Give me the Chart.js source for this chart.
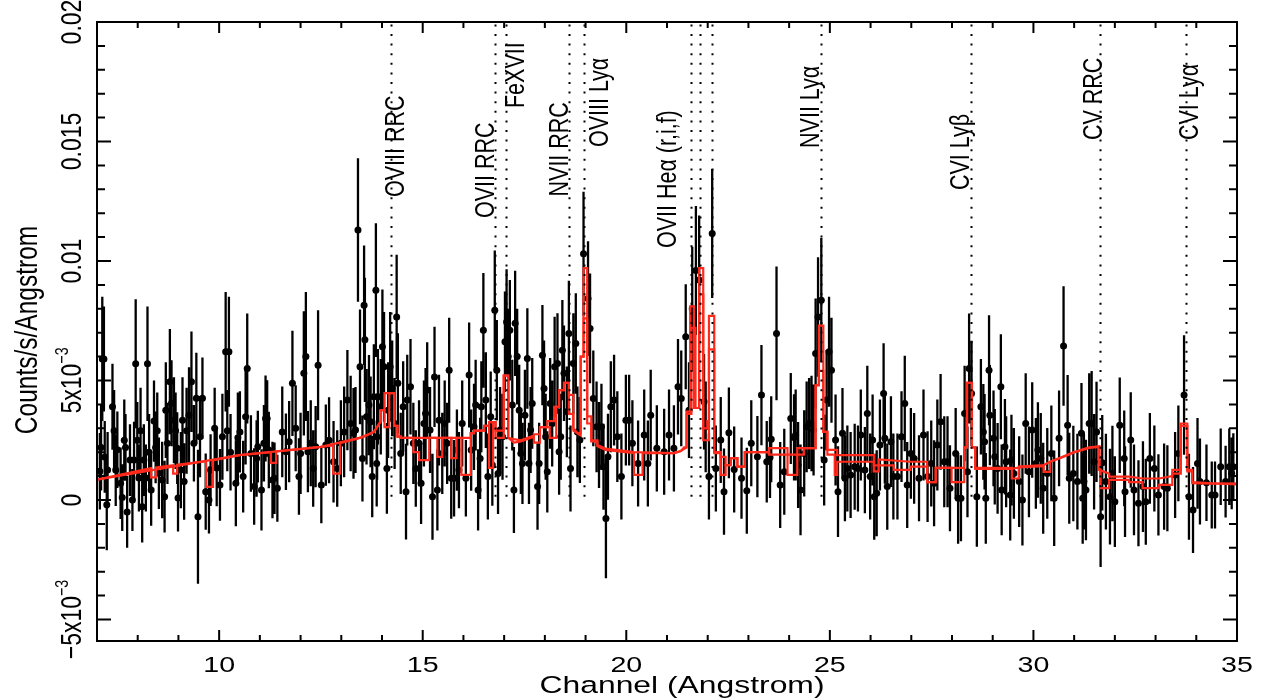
<!DOCTYPE html>
<html>
<head>
<meta charset="utf-8">
<title>RGS spectrum</title>
<script src="https://cdn.jsdelivr.net/npm/chart.js@4.4.1/dist/chart.umd.min.js"></script>
<style>
  html, body { margin: 0; padding: 0; background: #fff; }
  canvas { display: block; }
</style>
</head>
<body>
<canvas id="spectrum" width="1265" height="700"></canvas>
<script>
// ------------------- Data (rate and errors in 1e-3 counts/s/Angstrom) -------------------
const wave = [
  7.07, 7.10, 7.13, 7.17, 7.19, 7.24, 7.26, 7.38, 7.42, 7.46,
  7.50, 7.58, 7.62, 7.67, 7.70, 7.74, 7.81, 7.87, 7.91, 7.95,
  7.99, 8.03, 8.07, 8.11, 8.15, 8.20, 8.24, 8.28, 8.33, 8.40,
  8.44, 8.48, 8.52, 8.60, 8.66, 8.69, 8.73, 8.79, 8.83, 8.89,
  8.93, 8.97, 8.99, 9.06, 9.10, 9.14, 9.20, 9.26, 9.32, 9.38,
  9.44, 9.48, 9.53, 9.59, 9.67, 9.75, 9.79, 9.89, 9.94, 10.02,
  10.08, 10.16, 10.20, 10.24, 10.28, 10.41, 10.46, 10.51, 10.59, 10.65,
  10.69, 10.78, 10.86, 10.92, 10.95, 11.04, 11.10, 11.14, 11.18, 11.22,
  11.31, 11.36, 11.43, 11.55, 11.64, 11.72, 11.80, 11.88, 11.96, 12.00,
  12.08, 12.13, 12.18, 12.25, 12.31, 12.37, 12.43, 12.51, 12.62, 12.70,
  12.81, 12.90, 12.99, 13.07, 13.15, 13.23, 13.30, 13.35, 13.41, 13.46,
  13.52, 13.56, 13.58, 13.62, 13.68, 13.72, 13.76, 13.80, 13.85, 13.87,
  13.88, 13.90, 13.97, 14.01, 14.05, 14.12, 14.15, 14.20, 14.25, 14.31,
  14.36, 14.39, 14.46, 14.52, 14.59, 14.62, 14.70, 14.77, 14.83, 14.91,
  14.96, 15.03, 15.07, 15.11, 15.18, 15.24, 15.29, 15.36, 15.40, 15.48,
  15.54, 15.60, 15.65, 15.70, 15.77, 15.84, 15.89, 15.97, 16.06, 16.14,
  16.19, 16.26, 16.30, 16.36, 16.41, 16.44, 16.49, 16.55, 16.60, 16.67,
  16.71, 16.77, 16.82, 16.85, 16.90, 16.96, 17.02, 17.06, 17.10, 17.14,
  17.20, 17.24, 17.27, 17.32, 17.37, 17.41, 17.45, 17.51, 17.57, 17.61,
  17.65, 17.69, 17.82, 17.86, 17.94, 17.98, 18.02, 18.06, 18.13, 18.18,
  18.24, 18.31, 18.35, 18.39, 18.43, 18.47, 18.54, 18.59, 18.63, 18.70,
  18.76, 18.80, 18.86, 18.95, 19.06, 19.11, 19.19, 19.27, 19.33, 19.39,
  19.44, 19.50, 19.55, 19.62, 19.70, 19.78, 19.88, 19.99, 20.07, 20.15,
  20.29, 20.44, 20.53, 20.60, 20.75, 20.93, 21.05, 21.17, 21.27, 21.35,
  21.46, 21.54, 21.62, 21.71, 21.79, 21.91, 21.95, 22.03, 22.11, 22.20,
  22.32, 22.40, 22.52, 22.65, 22.83, 22.96, 23.07, 23.22, 23.32, 23.45,
  23.53, 23.56, 23.69, 23.78, 23.88, 24.04, 24.12, 24.16, 24.22, 24.28,
  24.37, 24.43, 24.49, 24.55, 24.60, 24.65, 24.71, 24.79, 24.86, 24.92,
  24.98, 25.04, 25.14, 25.20, 25.31, 25.37, 25.43, 25.51, 25.61, 25.69,
  25.76, 25.86, 25.92, 25.99, 26.05, 26.09, 26.15, 26.23, 26.32, 26.35,
  26.41, 26.50, 26.56, 26.66, 26.76, 26.84, 26.90, 26.99, 27.07, 27.19,
  27.30, 27.40, 27.49, 27.56, 27.64, 27.72, 27.81, 27.89, 27.95, 28.09,
  28.15, 28.22, 28.31, 28.38, 28.42, 28.48, 28.61, 28.71, 28.77, 28.80,
  28.83, 28.91, 28.93, 29.02, 29.05, 29.12, 29.20, 29.22, 29.30, 29.33,
  29.43, 29.46, 29.52, 29.65, 29.73, 29.81, 29.89, 29.97, 30.06, 30.11,
  30.18, 30.24, 30.34, 30.44, 30.51, 30.63, 30.74, 30.84, 30.88, 30.98,
  31.08, 31.18, 31.21, 31.24, 31.29, 31.37, 31.43, 31.49, 31.55, 31.65,
  31.69, 31.78, 31.88, 31.94, 32.00, 32.12, 32.23, 32.25, 32.39, 32.47,
  32.58, 32.69, 32.76, 32.86, 32.97, 33.07, 33.21, 33.29, 33.48, 33.56,
  33.70, 33.82, 33.92, 34.03, 34.09, 34.25, 34.38, 34.46, 34.60, 34.72,
  34.81, 34.87, 34.91
];
const rate = [
  1.2, 2.2, 5.9, 5.9, 1.8, -0.2, 1.25, 3.9, 2.9, 1.25,
  2.1, 0.7, 0.1, 2.5, 2.2, -0.5, 1.67, 0.0, 1.67, 5.7,
  2.5, 0.92, 2.9, -0.28, 1.67, 0.92, 5.7, 2.0, 0.42, 3.3,
  2.2, 2.9, 1.12, 0.84, 0.14, 3.76, 2.37, 4.95, 4.05, 3.34,
  2.9, 2.17, 0.08, 1.25, 3.34, 0.77, 2.9, 3.55, 4.95, 2.37,
  4.26, -0.7, 2.65, 4.26, 0.35, 0.0, 1.25, 3.0, 1.34, 0.63,
  2.65, 6.2, 2.9, 6.2, 2.0, 0.7, 2.6, 2.85, 0.98, 3.48,
  5.5, 1.95, 0.56, 1.74, 2.23, 0.42, 2.37, 3.41, 3.41, 2.09,
  0.84, 0.91, 0.49, 2.85, 2.02, 2.44, 4.88, 3.0, 0.98, 1.95,
  5.3, 6.0, 2.02, 2.37, 1.32, 2.23, 5.64, 0.63, 2.3, 2.5,
  1.6, 1.32, 2.37, 2.85, 4.18, 3.2, 2.79, 2.93, 11.3, 5.57,
  1.74, 8.15, 6.7, 3.48, 3.97, 3.27, 0.98, 4.32, 8.78, 1.53,
  2.65, 4.32, 3.9, 6.41, 5.57, 1.32, 3.76, 5.57, 4.67, 3.2,
  7.66, 4.88, 1.95, 3.9, 0.35, 4.18, 4.74, 2.37, 1.32, 2.37,
  0.7, 3.2, 3.62, 4.6, 2.93, 0.14, 5.15, 0.42, 3.34, 1.95,
  3.2, 2.37, 5.43, 0.91, 0.91, 2.09, 1.25, 3.2, 0.91, 5.23,
  2.09, 3.06, 3.97, 0.42, 1.74, 3.9, 7.1, 4.18, 0.98, 3.48,
  1.46, 7.94, 5.43, 1.11, 2.93, 2.65, 6.62, 7.45, 6.0, 7.1,
  3.97, 0.42, 7.39, 6.0, 3.76, 1.95, 1.53, 3.55, 5.92, 1.53,
  2.93, 4.04, 0.56, 1.53, 6.06, 4.67, 2.65, 1.18, 4.04, 3.2,
  5.57, 5.71, 2.02, 2.65, 6.27, 5.3, 3.69, 6.97, 1.32, 5.71,
  6.55, 2.85, 2.51, 10.3, 8.43, 7.18, 4.25, 3.06, 2.3, 3.06,
  1.39, -0.77, 1.81, 3.9, 4.18, 2.65, 0.98, 3.34, 3.34, 2.37,
  1.53, 2.72, 1.53, 3.55, 2.16, 2.02, 2.72, 2.16, 4.74, 4.25,
  6.83, 3.76, 8.0, 9.6, 9.2, 4.11, 3.06, 0.98, 11.15, 1.32,
  2.51, 0.35, 2.81, 1.28, 0.91, 0.39, 2.37, 1.81, 4.39, 1.6,
  1.78, 2.54, 6.97, 0.63, 1.18, 3.41, 2.62, 2.72, 1.46, 0.42,
  1.95, 3.06, 3.2, 3.2, 2.93, 6.13, 7.66, 8.36, 1.67, 4.18,
  6.2, 5.43, 2.51, 0.35, 2.79, 0.91, 1.32, 1.05, 1.39, 1.32,
  2.72, 1.25, 3.62, 0.98, 2.51, 0.14, 0.28, 2.3, 4.46, 2.58,
  0.56, 2.44, 0.98, 0.98, 2.65, 4.04, 0.63, 1.95, 1.74, 0.91,
  2.72, 0.98, 1.53, 0.7, 2.3, 3.27, 1.6, 1.6, 0.49, 1.95,
  0.07, 0.07, 3.62, 1.18, 5.5, 4.46, 0.14, 3.9, 2.85, 2.44,
  0.07, 5.43, 3.55, 2.58, 1.81, 1.32, 4.74, 0.42, 2.23, 1.6,
  0.21, 1.67, 1.11, 0.77, 0.0, 3.2, 1.18, 2.93, 1.53, 2.09,
  1.74, 0.49, 1.11, 1.95, 0.07, 2.58, 6.44, 3.13, 0.91, 1.11,
  0.77, 2.79, 0.07, 0.77, 0.42, 3.2, 3.2, 1.6, 2.85, -0.7,
  1.56, 0.77, 0.14, 1.11, -0.07, 3.13, 1.74, 0.35, 2.51, 0.42,
  -0.14, 0.56, -0.07, 1.74, 1.32, 0.21, 0.56, 0.49, 1.05, 1.95,
  4.39, 0.14, -0.42, 1.53, 0.77, 0.72, 0.21, 0.21, 1.39, 0.77,
  1.39, 1.11, 1.39
];
const rateErr = [
  1.6, 1.8, 2.6, 2.2, 1.5, 1.9, 1.6, 1.8, 1.7, 1.5,
  1.6, 1.5, 1.4, 1.7, 1.4, 1.5, 1.5, 1.3, 1.6, 2.7,
  1.6, 1.4, 1.8, 1.5, 1.5, 1.4, 2.4, 1.6, 1.5, 1.7,
  1.5, 1.6, 1.5, 1.6, 1.5, 2.0, 1.7, 2.2, 1.8, 1.8,
  1.6, 1.5, 1.4, 1.6, 1.8, 1.6, 1.8, 2.0, 2.1, 1.6,
  1.9, 2.8, 1.7, 1.7, 1.6, 1.4, 1.5, 1.7, 1.6, 1.5,
  1.8, 2.5, 1.7, 2.3, 1.6, 1.8, 1.9, 1.7, 1.5, 2.0,
  2.3, 1.6, 1.6, 1.6, 1.5, 1.7, 1.6, 1.8, 1.6, 1.6,
  1.6, 1.5, 1.4, 1.9, 1.6, 1.7, 2.2, 1.8, 1.6, 1.7,
  2.6, 2.7, 1.7, 1.8, 1.6, 1.7, 2.3, 1.6, 1.7, 1.8,
  1.7, 1.6, 1.8, 1.9, 2.1, 2.0, 1.9, 1.8, 3.0, 2.4,
  1.8, 2.5, 2.6, 2.0, 2.1, 1.9, 1.7, 2.2, 2.8, 1.8,
  1.8, 2.0, 2.0, 2.4, 2.3, 1.9, 2.0, 2.3, 2.0, 1.9,
  2.6, 2.1, 1.7, 1.9, 2.0, 1.9, 2.0, 1.7, 1.6, 1.8,
  1.7, 1.8, 1.9, 2.0, 1.8, 1.8, 2.1, 1.7, 1.9, 1.7,
  1.8, 1.7, 2.2, 1.7, 1.6, 1.7, 1.6, 1.8, 1.6, 2.2,
  1.7, 1.8, 1.9, 1.7, 1.7, 1.9, 2.4, 2.0, 1.8, 1.9,
  1.7, 2.5, 2.1, 1.7, 1.8, 1.8, 2.1, 2.2, 2.0, 2.1,
  1.9, 1.8, 2.2, 2.0, 1.9, 1.7, 1.7, 1.9, 2.1, 1.7,
  1.8, 1.9, 1.8, 1.7, 2.1, 2.0, 1.8, 1.7, 1.9, 1.8,
  2.1, 2.1, 1.8, 1.8, 2.1, 2.0, 1.9, 2.2, 1.8, 2.1,
  2.1, 1.9, 1.8, 2.6, 2.4, 2.3, 2.0, 1.9, 1.8, 1.8,
  1.8, 2.5, 1.8, 1.9, 1.9, 1.9, 1.8, 1.9, 1.9, 1.8,
  1.8, 1.9, 1.8, 1.9, 1.8, 1.8, 1.9, 1.8, 2.0, 2.0,
  2.2, 2.0, 2.6, 2.7, 2.7, 2.0, 1.9, 1.8, 2.7, 1.8,
  1.8, 1.8, 1.9, 1.8, 1.7, 1.8, 1.8, 1.7, 2.1, 1.7,
  1.7, 1.8, 2.8, 1.8, 1.8, 1.9, 1.8, 1.9, 1.8, 1.9,
  1.8, 1.9, 1.9, 2.0, 1.9, 2.3, 2.5, 2.6, 1.9, 2.1,
  2.3, 2.2, 1.9, 1.9, 1.9, 1.8, 1.8, 1.8, 1.8, 1.8,
  1.9, 1.8, 2.0, 1.8, 1.9, 1.8, 1.8, 1.9, 2.1, 1.9,
  1.8, 1.9, 1.8, 1.8, 1.9, 2.0, 1.8, 1.9, 1.9, 1.8,
  1.9, 1.9, 1.8, 1.8, 1.9, 2.0, 1.9, 1.9, 1.8, 1.9,
  1.9, 1.8, 2.0, 1.9, 2.3, 2.2, 2.1, 2.0, 2.0, 2.0,
  1.9, 2.3, 2.1, 2.0, 2.0, 1.9, 2.2, 1.9, 2.0, 1.9,
  1.9, 1.9, 1.9, 1.9, 1.9, 2.1, 1.9, 2.0, 1.9, 2.0,
  1.9, 1.9, 1.9, 2.0, 2.0, 2.0, 2.5, 2.1, 1.9, 2.0,
  2.0, 2.1, 1.9, 2.0, 2.1, 2.1, 2.2, 2.0, 2.1, 2.1,
  2.0, 2.0, 2.0, 2.0, 1.9, 2.0, 2.0, 1.9, 2.0, 1.9,
  1.8, 1.9, 1.8, 1.9, 1.8, 1.7, 1.8, 1.8, 1.8, 2.0,
  2.5, 1.8, 1.8, 1.9, 1.8, 1.6, 1.4, 1.4, 1.6, 1.5,
  1.6, 1.5, 1.4
];

// model curves, [wavelength, flux in 1e-3] vertices (vertical jumps share a wavelength)
const modelA = [
  [7.0, 0.85], [8.33, 1.33], [8.33, 0.95], [8.45, 0.95], [8.45, 1.36], [8.87, 1.45], [8.87, 1.1], [8.97, 1.1],
  [8.97, 1.48], [9.68, 1.62], [9.68, 0.55], [9.85, 0.55], [9.85, 1.66], [10.5, 1.88], [11.27, 2.0], [11.27, 1.55],
  [11.4, 1.55], [11.4, 2.03], [12.5, 2.22], [12.8, 2.28], [12.8, 1.1], [12.97, 1.1], [12.97, 2.38], [13.5, 2.62],
  [13.8, 2.85], [13.88, 3.05], [13.97, 3.3], [13.97, 3.76], [14.06, 3.76], [14.06, 4.47], [14.30, 4.47], [14.30, 3.1],
  [14.38, 3.1], [14.38, 2.65], [14.46, 2.65], [14.46, 2.6], [16.18, 2.6], [16.18, 2.8], [16.26, 2.8], [16.26, 2.9],
  [16.51, 2.9], [16.51, 3.1], [16.63, 3.1], [16.63, 3.26], [16.79, 3.26], [16.79, 2.9], [16.99, 2.9], [16.99, 5.2],
  [17.1, 5.2], [17.1, 2.6], [17.24, 2.55], [17.41, 2.5], [17.73, 2.7], [17.73, 2.75], [17.88, 2.75], [17.88, 3.05],
  [18.06, 3.05], [18.06, 3.3], [18.23, 3.3], [18.23, 3.9], [18.35, 3.9], [18.35, 4.6], [18.47, 4.6], [18.47, 4.9],
  [18.59, 4.9], [18.59, 3.6], [18.70, 3.6], [18.70, 3.0], [18.80, 2.8], [18.88, 2.8], [18.88, 6.0], [18.95, 6.0],
  [18.95, 9.7], [19.04, 9.7], [19.04, 3.5], [19.14, 3.5], [19.14, 2.5], [19.29, 2.5], [19.29, 2.3], [19.49, 2.15],
  [20.19, 2.0], [21.17, 1.96], [21.34, 2.05], [21.42, 2.2], [21.48, 2.2], [21.48, 3.7], [21.57, 3.7], [21.57, 8.1],
  [21.66, 8.1], [21.66, 3.85], [21.79, 3.85], [21.79, 9.7], [21.89, 9.7], [21.89, 3.0], [21.99, 3.0], [21.99, 3.3],
  [22.03, 3.3], [22.03, 7.7], [22.16, 7.7], [22.16, 2.0], [22.32, 2.0], [22.32, 1.8], [22.44, 1.8], [22.44, 1.46],
  [22.57, 1.46], [22.57, 1.75], [22.73, 1.75], [22.73, 1.4], [22.91, 1.4], [22.91, 2.0], [23.51, 2.0], [23.51, 2.17],
  [23.96, 2.17], [23.96, 1.05], [24.2, 1.05], [24.2, 2.17], [24.65, 2.17], [24.65, 4.8], [24.73, 4.8], [24.73, 7.3],
  [24.84, 7.3], [24.84, 2.85], [24.94, 2.85], [24.94, 2.1], [25.18, 2.1], [25.18, 1.88], [26.08, 1.88], [26.08, 1.2],
  [26.2, 1.2], [26.2, 1.7], [26.98, 1.6], [27.39, 1.6], [27.39, 0.75], [27.6, 0.75], [27.6, 1.34], [28.30, 1.34],
  [28.30, 2.2], [28.37, 2.2], [28.37, 4.9], [28.49, 4.9], [28.49, 2.2], [28.57, 2.2], [28.57, 1.34], [29.47, 1.34],
  [29.47, 0.9], [29.64, 0.9], [29.64, 1.4], [30.25, 1.46], [30.41, 1.6], [30.70, 1.8], [30.98, 2.0], [31.37, 2.2],
  [31.62, 2.25], [31.62, 1.26], [31.86, 1.1], [31.86, 0.98], [32.35, 0.98], [32.68, 0.9], [33.09, 0.9], [33.41, 1.0],
  [33.41, 1.26], [33.62, 1.26], [33.62, 3.2], [33.78, 3.2], [33.78, 1.26], [33.9, 1.26], [33.9, 0.75], [34.4, 0.7],
  [35.0, 0.65]
];
const modelB = [
  [7.0, 0.85], [10.5, 1.88], [12.5, 2.22], [13.5, 2.62], [13.8, 2.85], [13.88, 3.05], [13.97, 3.3], [13.97, 3.76],
  [14.06, 3.76], [14.06, 3.05], [14.18, 3.05], [14.18, 4.47], [14.30, 4.47], [14.30, 3.1], [14.38, 3.1], [14.38, 2.65],
  [14.46, 2.65], [14.46, 2.6], [14.77, 2.6], [14.77, 2.0], [14.91, 2.0], [14.91, 1.67], [15.16, 1.67], [15.16, 2.6],
  [15.36, 2.6], [15.36, 1.8], [15.48, 1.8], [15.48, 2.6], [15.70, 2.6], [15.70, 1.75], [15.83, 1.75], [15.83, 2.6],
  [15.95, 2.6], [15.95, 1.05], [16.18, 1.05], [16.18, 2.8], [16.26, 2.8], [16.26, 2.9], [16.51, 2.9], [16.51, 3.1],
  [16.63, 3.1], [16.63, 1.34], [16.73, 1.34], [16.73, 3.26], [16.79, 3.26], [16.79, 2.6], [16.99, 2.6], [16.99, 5.2],
  [17.1, 5.2], [17.1, 2.6], [17.24, 2.4], [17.41, 2.45], [17.73, 2.65], [17.73, 2.4], [17.88, 2.4], [17.88, 3.05],
  [18.12, 3.05], [18.12, 2.6], [18.28, 2.6], [18.28, 3.9], [18.35, 3.9], [18.35, 4.6], [18.47, 4.6], [18.47, 4.9],
  [18.59, 4.9], [18.59, 4.4], [18.70, 4.4], [18.70, 2.9], [18.88, 2.7], [18.88, 6.0], [18.95, 6.0], [18.95, 7.6],
  [19.04, 7.6], [19.04, 3.2], [19.14, 3.2], [19.14, 2.45], [19.29, 2.45], [19.29, 2.25], [19.49, 2.1], [20.19, 1.96],
  [20.19, 1.05], [20.40, 1.05], [20.40, 1.96], [21.17, 1.96], [21.34, 2.05], [21.48, 2.2], [21.48, 3.6], [21.60, 3.6],
  [21.60, 7.2], [21.70, 7.2], [21.70, 3.85], [21.79, 3.85], [21.79, 8.6], [21.89, 8.6], [21.89, 2.5], [22.03, 2.5],
  [22.03, 6.3], [22.16, 6.3], [22.16, 1.96], [22.32, 1.96], [22.32, 1.05], [22.44, 1.05], [22.44, 1.46], [22.57, 1.46],
  [22.57, 1.75], [22.73, 1.75], [22.73, 1.4], [22.91, 1.4], [22.91, 2.0], [23.51, 2.0], [23.51, 1.9], [24.36, 1.9],
  [24.36, 2.17], [24.65, 2.17], [24.65, 4.8], [24.73, 4.8], [24.73, 5.4], [24.84, 5.4], [24.84, 2.85], [24.94, 2.85],
  [24.94, 1.9], [25.12, 1.9], [25.12, 1.05], [25.18, 1.05], [25.18, 1.6], [26.08, 1.6], [26.08, 1.45], [26.57, 1.45],
  [26.57, 1.26], [26.98, 1.26], [26.98, 1.4], [27.39, 1.4], [27.39, 0.75], [27.6, 0.75], [27.6, 1.34], [27.99, 1.34],
  [27.99, 0.75], [28.30, 0.75], [28.30, 2.2], [28.37, 2.2], [28.37, 4.9], [28.49, 4.9], [28.49, 2.2], [28.57, 2.2],
  [28.57, 1.3], [29.47, 1.3], [29.64, 1.36], [30.25, 1.42], [30.25, 1.18], [30.41, 1.18], [30.41, 1.6], [30.70, 1.78],
  [30.98, 1.98], [31.37, 2.18], [31.62, 2.22], [31.62, 1.26], [31.65, 1.26], [31.65, 0.5], [31.86, 0.5], [31.86, 0.84],
  [32.35, 0.84], [32.35, 0.75], [32.68, 0.75], [32.68, 0.5], [33.09, 0.5], [33.09, 0.63], [33.41, 0.63], [33.41, 1.1],
  [33.62, 1.1], [33.62, 3.1], [33.78, 3.1], [33.78, 1.2], [33.9, 1.2], [33.9, 0.7], [34.4, 0.68], [35.0, 0.7]
];

// identified lines
const markerWaves = [14.23, 16.78, 17.05, 18.59, 18.97, 21.60, 21.80, 22.10, 24.78, 28.47, 31.63, 33.74];
const labelNames = ['OVIII RRC', 'OVII RRC', 'FeXVII', 'NVII RRC', 'OVIII Ly\u03b1', 'OVII He\u03b1 (r,i,f)',
  'NVII Ly\u03b1', 'CVI Ly\u03b2', 'CV RRC', 'CVI Ly\u03b1'];
const labelWaves = [14.23, 16.78, 17.05, 18.59, 18.97, 21.60, 24.78, 28.47, 31.63, 33.74];

// axes
const xMajor = [10, 15, 20, 25, 30, 35];
const xTickLabels = ['10', '15', '20', '25', '30', '35'];
const yMajor = [-0.005, 0, 0.005, 0.01, 0.015, 0.02];
const yTickLabels = [['\u22125x10', '\u22123'], ['0'], ['5x10', '\u22123'], ['0.01'], ['0.015'], ['0.02']];

// ------------------- Styling -------------------
const FONT = '"Liberation Sans", Arial, Helvetica, sans-serif';
const STRETCH = 1.3;   // the original figure is wider than its text
const RED = '#ff2a1c';
const labelStyle = {
  dx: [3, -11, 8, -11, 14, -25, -12, -12, -8, 2],        // centre offset from the line, px
  bottom: [12.68, 11.8, 16.4, 12.7, 14.77, 10.54, 14.73, 12.97, 15.06, 15.06] // text start, 1e-3 units
};

// ------------------- Text helpers -------------------
function hText(ctx, text, x, y, size) {
  ctx.save();
  ctx.font = size + 'px ' + FONT;
  ctx.translate(x, y);
  ctx.scale(STRETCH, 1);
  ctx.textAlign = 'center';
  ctx.textBaseline = 'alphabetic';
  ctx.fillText(text, 0, 0);
  ctx.restore();
}

// vertical text reading bottom to top; baseline on screen x, `y` is its centre or start
function vText(ctx, parts, x, y, size, centered) {
  ctx.save();
  ctx.translate(x, y);
  ctx.rotate(-Math.PI / 2);
  ctx.scale(1, STRETCH);
  ctx.textAlign = 'left';
  ctx.textBaseline = 'alphabetic';
  const sizes = parts.map((p, i) => (i === 0 ? size : size * 0.62));
  let total = 0;
  parts.forEach((p, i) => { ctx.font = sizes[i] + 'px ' + FONT; total += ctx.measureText(p).width; });
  let cx = centered ? -total / 2 : 0;
  parts.forEach((p, i) => {
    ctx.font = sizes[i] + 'px ' + FONT;
    ctx.fillText(p, cx, i === 0 ? 0 : -size * 0.42);
    cx += ctx.measureText(p).width;
  });
  ctx.restore();
}

// ------------------- Plugins -------------------
const errorBars = {
  id: 'errorBars',
  beforeDatasetsDraw(chart) {
    const { ctx, chartArea: a, scales: { x, y } } = chart;
    ctx.save();
    ctx.beginPath();
    ctx.rect(a.left, a.top, a.width, a.height);
    ctx.clip();
    ctx.strokeStyle = '#000';
    ctx.lineWidth = 2.3;
    ctx.beginPath();
    wave.forEach((w, i) => {
      const px = x.getPixelForValue(w);
      ctx.moveTo(px, y.getPixelForValue((rate[i] + rateErr[i]) * 1e-3));
      ctx.lineTo(px, y.getPixelForValue((rate[i] - rateErr[i]) * 1e-3));
    });
    ctx.stroke();
    ctx.restore();
  }
};

const lineMarkers = {
  id: 'lineMarkers',
  afterDatasetsDraw(chart) {
    const { ctx, scales: { x, y } } = chart;
    ctx.save();
    ctx.strokeStyle = '#000';
    ctx.lineWidth = 2;
    ctx.setLineDash([2, 7.6]);
    markerWaves.forEach(w => {
      const px = Math.round(x.getPixelForValue(w)) + 0.5;
      ctx.beginPath();
      ctx.moveTo(px, y.getPixelForValue(0.0199));
      ctx.lineTo(px, y.getPixelForValue(0.0001));
      ctx.stroke();
    });
    ctx.setLineDash([]);
    ctx.fillStyle = '#000';
    labelNames.forEach((name, i) => {
      const size = 21.5;
      const cx = x.getPixelForValue(labelWaves[i]) + labelStyle.dx[i];
      const base = cx + size * 0.36 * STRETCH;
      vText(ctx, [name], base, y.getPixelForValue(labelStyle.bottom[i] * 1e-3), size, false);
    });
    ctx.restore();
  }
};

const frameAxes = {
  id: 'frameAxes',
  afterDraw(chart) {
    const { ctx, chartArea: a, scales: { x, y } } = chart;
    ctx.save();
    ctx.strokeStyle = '#000';
    ctx.lineWidth = 2;
    ctx.strokeRect(a.left, a.top, a.width, a.height);
    ctx.beginPath();
    for (let w = Math.ceil(x.min); w <= x.max; w++) {
      const px = x.getPixelForValue(w);
      const len = xMajor.includes(w) ? 11 : 6;
      ctx.moveTo(px, a.bottom); ctx.lineTo(px, a.bottom - len);
      ctx.moveTo(px, a.top); ctx.lineTo(px, a.top + len);
    }
    for (let k = -5; k <= 20; k++) {
      const py = y.getPixelForValue(k * 1e-3);
      const len = k % 5 === 0 ? 14 : 8;
      ctx.moveTo(a.left, py); ctx.lineTo(a.left + len, py);
      ctx.moveTo(a.right, py); ctx.lineTo(a.right - len, py);
    }
    ctx.stroke();

    ctx.fillStyle = '#000';
    xMajor.forEach((v, i) => hText(ctx, xTickLabels[i], x.getPixelForValue(v), a.bottom + 31, 22));
    hText(ctx, 'Channel (Angstrom)', 682, 693, 24.5);
    yMajor.forEach((v, i) => vText(ctx, yTickLabels[i], 81, y.getPixelForValue(v), 23, true));
    vText(ctx, ['Counts/s/Angstrom'], 37, 330, 24.5, true);
    ctx.restore();
  }
};

// ------------------- Chart -------------------
const toPoints = list => list.map(([w, f]) => ({ x: w, y: f * 1e-3 }));

new Chart(document.getElementById('spectrum'), {
  type: 'scatter',
  data: {
    datasets: [
      {
        type: 'line', label: 'model 1', data: toPoints(modelA), order: 0,
        borderColor: RED, borderWidth: 2.2, pointRadius: 0, tension: 0, fill: false
      },
      {
        type: 'line', label: 'model 2', data: toPoints(modelB), order: 1,
        borderColor: RED, borderWidth: 2.2, pointRadius: 0, tension: 0, fill: false
      },
      {
        label: 'data', order: 2,
        data: wave.map((w, i) => ({ x: w, y: rate[i] * 1e-3 })),
        pointRadius: 3.5, pointHoverRadius: 3.5, backgroundColor: '#000', borderWidth: 0
      }
    ]
  },
  options: {
    responsive: false,
    animation: false,
    devicePixelRatio: 1,
    layout: { padding: { left: 97, right: 28, top: 22, bottom: 59 } },
    plugins: { legend: { display: false }, tooltip: { enabled: false } },
    scales: {
      x: { type: 'linear', min: 7, max: 35, display: false },
      y: { type: 'linear', min: -0.0059, max: 0.02, display: false }
    }
  },
  plugins: [errorBars, lineMarkers, frameAxes]
});
</script>
</body>
</html>
